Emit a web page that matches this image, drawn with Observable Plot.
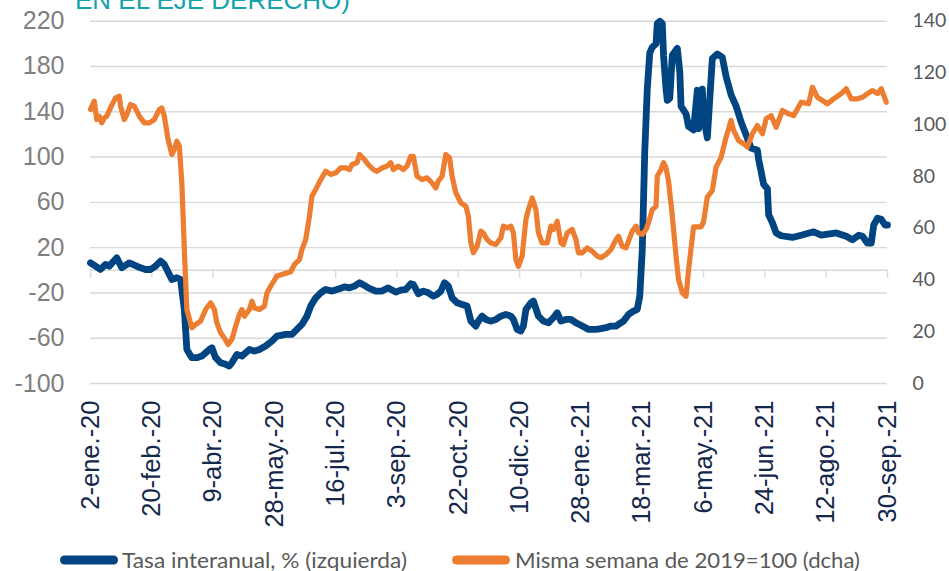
<!DOCTYPE html>
<html>
<head>
<meta charset="utf-8">
<script src="https://cdn.jsdelivr.net/npm/d3@7"></script>
<script src="https://cdn.jsdelivr.net/npm/@observablehq/plot@0.6"></script>
<style>
  html, body { margin: 0; padding: 0; background: #ffffff; }
  #chart { width: 949px; height: 571px; overflow: hidden; }
  #chart svg { display: block; }
</style>
</head>
<body>
<div id="chart"></div>
<script>
// ---------- DATA ----------
const titulo = "EN EL EJE DERECHO)";
const series = ["Tasa interanual, % (izquierda)", "Misma semana de 2019=100 (dcha)"];
const colores = ["#004481", "#ED7D31"];

const fechaInicio = "2020-01-02"; // day offsets below are counted from this date

// Tasa interanual, % (left axis)
const tasaDias = [0,4,8,12,15,21,25,31,40,44,48,52,56,59,63,65,69,72,75,77,81,85,89,95,97,100,104,108,111,113,117,121,127,131,135,140,145,149,156,161,165,169,173,176,180,184,188,193,199,203,207,211,215,219,222,228,233,238,244,248,252,256,258,262,266,270,274,277,280,283,286,289,293,297,301,304,308,310,313,316,320,324,328,332,336,338,341,344,346,348,352,354,358,362,366,370,373,376,380,384,388,393,398,404,408,412,416,420,422,426,430,434,437,439,441,443,445,447,449,452,453,455,457,458,460,461,463,465,469,471,472,476,478,482,485,486,489,490,493,497,501,505,508,512,516,520,524,528,533,534,538,541,542,545,548,552,561,568,578,584,596,604,609,614,617,621,624,626,629,632,635,637];
const tasa = [6.6,3.7,0.7,5.2,3.7,11,2.2,6.6,2.2,0.7,0.7,3.7,8.1,5.2,-3.7,-8.1,-6.6,-8.1,-34.6,-69.9,-77.2,-77.2,-75.8,-69.9,-68.4,-77.2,-81.7,-83.1,-84.6,-81.7,-74.3,-75.8,-69.9,-71.4,-69.9,-66.9,-62.5,-58.1,-56.6,-56.6,-52.2,-47.8,-40.5,-31.6,-24.3,-19.9,-16.9,-18.4,-16.3,-14.6,-15.5,-14,-11,-13.4,-15.5,-18.4,-18.4,-15.5,-19.3,-17.5,-16.9,-11.9,-12.5,-20.7,-18.4,-19.9,-22.8,-21.3,-18.4,-11,-14,-24.3,-28.7,-30.2,-31.6,-44.9,-49.3,-44.9,-40.5,-43.4,-44.9,-43.4,-40.5,-39,-40.5,-43.4,-52.2,-53.7,-49.3,-34.6,-28.7,-27.2,-40.5,-44.9,-46.4,-41.9,-37.5,-44.9,-43.4,-43.4,-46.4,-49.3,-52.2,-52.2,-51.6,-50.7,-49.3,-49.3,-47.8,-44.9,-39,-36.1,-34.6,-22.8,18,105,160,192,197,200,218,220,218,190,160,150,152,190,196,175,145,138,127,124,159,125,160,135,117,187,191,188,171,155,145,131,119.5,108,106,98,76,72,49,42,33,30.5,29,31,34,31,33,30,27,31,30,24,24,40,46,45,40,40];

// Misma semana de 2019 = 100 (right axis)
const semanaDias = [0,3,5,7,9,11,13,16,20,23,24,27,29,32,35,39,43,47,51,55,57,59,62,65,67,69,71,73,75,77,81,84,88,92,96,99,101,104,107,110,113,116,119,121,123,127,129,131,135,139,141,144,149,153,160,163,167,169,172,175,177,180,184,188,192,196,200,204,207,209,213,215,219,222,226,229,233,237,240,242,246,250,253,256,258,261,265,269,273,276,278,281,284,287,289,292,296,300,302,304,306,309,312,314,317,320,324,328,330,333,336,338,340,342,345,348,350,353,356,358,361,365,368,370,373,376,378,381,385,388,390,393,397,401,405,408,412,416,420,422,425,428,430,433,436,438,441,444,446,449,452,453,456,458,460,462,465,468,470,473,476,478,482,488,490,493,497,500,504,508,512,514,518,522,525,529,533,537,540,544,548,553,558,562,568,574,577,581,589,594,600,604,608,613,617,621,625,629,632,636];
const semana = [105.9,109.1,102,103.3,100.7,102.6,103.3,106.5,110.4,111,107.2,102,103.9,107.8,107.2,103.3,100.7,100.7,102,105.9,106.5,103.3,94.3,88.5,90.4,93.6,91.7,77.5,51.8,28.6,21.5,22.8,24.1,28.6,31.2,28.6,23.4,19.6,17.6,15.1,17,22.1,26.7,28.6,26,28.6,31.8,29.2,28.6,29.9,35,37.6,41.5,42.1,43.2,46,47.9,51.8,55.6,64.7,72.4,75,78.8,82,80.8,81.4,83.3,83.3,82.7,84.6,85.3,88.5,86.5,84.6,82.7,82,83.3,84,85.3,82.7,84,82.7,84,87.8,87.8,80.1,78.8,79.5,77.5,75.6,78.2,80.1,88.5,87.2,80.1,73.7,69.8,68.5,64.7,54.3,50.5,53,58.9,58.1,55.6,54.3,53.7,56.3,60.8,60.1,60.8,58.2,47.9,45.3,49.2,63.4,67.2,71.7,67.2,58.2,54.3,54.3,60.8,59.5,62.7,54.3,53.7,58.2,59.5,55.6,50.5,50.5,52.4,51.1,49.2,48.6,49.8,51.8,55.6,56.9,53,52.4,55,58.9,60.8,58.2,57.6,59.5,62.1,67.2,68.5,80.1,82.7,85.3,83.3,78.2,64.7,49.2,40.2,35,33.7,44,60.5,60.5,62.5,72,74.6,83.6,87.4,95.2,101.7,97.8,93.9,92.6,91.4,96.5,99.7,96.5,102.3,103.5,99,105.5,104.2,103.5,108.7,108.1,114.5,110.6,108.1,110,112,113.9,110,110,110.6,112,113.2,112,113.9,108.7];

// Axes
const ticksIzq = [-100, -60, -20, 20, 60, 100, 140, 180, 220];
const dominioIzq = [-100, 220];
const ticksDcha = [0, 20, 40, 60, 80, 100, 120, 140];
const dominioDcha = [0, 140];
const fechasEje = ["2020-01-02","2020-02-20","2020-04-09","2020-05-28","2020-07-16","2020-09-03","2020-10-22","2020-12-10","2021-01-28","2021-03-18","2021-05-06","2021-06-24","2021-08-12","2021-09-30"];
const etiquetasEje = ["2-ene.-20","20-feb.-20","9-abr.-20","28-may.-20","16-jul.-20","3-sep.-20","22-oct.-20","10-dic.-20","28-ene.-21","18-mar.-21","6-may.-21","24-jun.-21","12-ago.-21","30-sep.-21"];

// ---------- BUILD ----------
const t0 = new Date(fechaInicio + "T00:00:00Z");
const aFecha = d => new Date(t0.getTime() + d * 864e5);
const dchaAIzq = r => dominioIzq[0] + (r - dominioDcha[0]) * (dominioIzq[1] - dominioIzq[0]) / (dominioDcha[1] - dominioDcha[0]);
const izqADcha = v => dominioDcha[0] + (v - dominioIzq[0]) * (dominioDcha[1] - dominioDcha[0]) / (dominioIzq[1] - dominioIzq[0]);

const datosTasa = tasaDias.map((d, i) => ({fecha: aFecha(d), valor: tasa[i]}));
const datosSemana = semanaDias.map((d, i) => ({fecha: aFecha(d), valor: dchaAIzq(semana[i])}));
const ticksX = fechasEje.map(s => new Date(s + "T00:00:00Z"));
const etiquetaPorFecha = new Map(ticksX.map((f, i) => [+f, etiquetasEje[i]]));

const plot = Plot.plot({
  width: 949,
  height: 545,
  marginLeft: 90,
  marginRight: 62,
  marginTop: 20.7,
  marginBottom: 162,
  style: {fontFamily: "'Liberation Sans', Arial, sans-serif", background: "#ffffff"},
  x: {type: "utc", domain: [ticksX[0], ticksX[ticksX.length - 1]]},
  y: {domain: dominioIzq},
  marks: [
    Plot.gridY(ticksIzq, {stroke: "#d9d9d9", strokeOpacity: 1, strokeWidth: 1.4}),
    Plot.ruleY([0], {stroke: "#d9d9d9", strokeWidth: 1.4}),
    Plot.ruleX(ticksX, {x: d => d, y1: 0, y2: -7, stroke: "#d9d9d9", strokeWidth: 1.4}),
    Plot.axisY(ticksIzq, {anchor: "left", tickSize: 0, tickPadding: 26, fontSize: 25, fill: "#7f7f7f", label: null, tickFormat: d => String(d)}),
    Plot.axisY(ticksDcha.map(dchaAIzq), {anchor: "right", tickSize: 0, tickPadding: 25, fontSize: 19.5, fontFamily: "Lato, 'Open Sans', sans-serif", fill: "#595959", label: null, tickFormat: v => String(Math.round(izqADcha(v)))}),
    Plot.axisX(ticksX, {anchor: "bottom", tickSize: 0, tickPadding: 17, tickRotate: -90, fontSize: 25.5, fill: "#14284b", label: null, tickFormat: d => etiquetaPorFecha.get(+d)}),
    Plot.lineY(datosTasa, {x: "fecha", y: "valor", stroke: colores[0], strokeWidth: 6.8, strokeLinejoin: "round", strokeLinecap: "round"}),
    Plot.lineY(datosSemana, {x: "fecha", y: "valor", stroke: colores[1], strokeWidth: 5.2, strokeLinejoin: "round", strokeLinecap: "round"})
  ]
});

// Title (its upper half is cut off by the top edge, as in the reference)
d3.select(plot).append("text")
  .attr("x", 75).attr("y", 9)
  .attr("text-anchor", "start")
  .attr("font-family", "'Liberation Sans', Arial, sans-serif")
  .attr("font-size", 26)
  .attr("fill", "#14a3a8")
  .text(titulo);

document.getElementById("chart").appendChild(plot);

// Legend below the SVG
const leg = d3.select("#chart").append("svg")
  .attr("width", 949).attr("height", 26)
  .style("display", "block");
const legPos = [{sx: 60, tx: 122, tw: 285}, {sx: 452, tx: 515, tw: 345}];
series.forEach((s, i) => {
  const p = legPos[i];
  leg.append("line")
    .attr("x1", p.sx + 4.5).attr("x2", p.sx + 53.5)
    .attr("y1", 15).attr("y2", 15)
    .attr("stroke", colores[i]).attr("stroke-width", 9).attr("stroke-linecap", "round");
  leg.append("text")
    .attr("x", p.tx).attr("y", 23)
    .attr("text-anchor", "start")
    .attr("font-family", "Lato, 'Open Sans', sans-serif")
    .attr("font-size", 21)
    .attr("fill", "#595959")
    .attr("textLength", p.tw)
    .attr("lengthAdjust", "spacingAndGlyphs")
    .text(s);
});
</script>
</body>
</html>
